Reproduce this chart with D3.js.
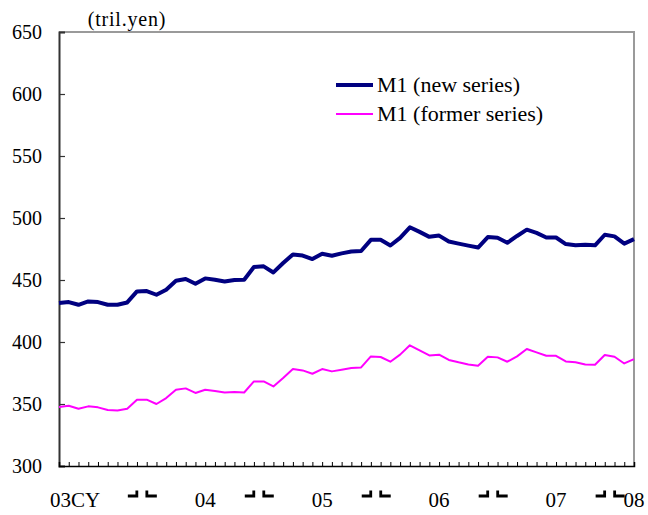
<!DOCTYPE html>
<html>
<head>
<meta charset="utf-8">
<script src="https://cdn.jsdelivr.net/npm/d3@7"></script>
<style>
  body { margin: 0; background: #fff; }
  text { font-family: "Liberation Serif", "Times New Roman", serif; fill: #000; }
</style>
</head>
<body>
<div id="chart"></div>
<script>
// months Apr 2003 - Mar 2008
var months = [
  "2003-04","2003-05","2003-06","2003-07","2003-08","2003-09","2003-10","2003-11","2003-12",
  "2004-01","2004-02","2004-03","2004-04","2004-05","2004-06","2004-07","2004-08","2004-09","2004-10","2004-11","2004-12",
  "2005-01","2005-02","2005-03","2005-04","2005-05","2005-06","2005-07","2005-08","2005-09","2005-10","2005-11","2005-12",
  "2006-01","2006-02","2006-03","2006-04","2006-05","2006-06","2006-07","2006-08","2006-09","2006-10","2006-11","2006-12",
  "2007-01","2007-02","2007-03","2007-04","2007-05","2007-06","2007-07","2007-08","2007-09","2007-10","2007-11","2007-12",
  "2008-01","2008-02","2008-03"
];

var m1New = [
  431.4, 432.2, 430.0, 432.7, 432.2, 430.0, 430.0, 431.9,
  440.8, 441.1, 438.1, 442.2, 449.4, 450.8, 447.0, 451.3,
  450.2, 448.8, 450.0, 450.2, 460.5, 461.0, 456.1, 463.7,
  470.6, 469.7, 466.9, 471.2, 469.6, 471.5, 473.0, 473.4,
  482.4, 482.4, 477.8, 484.0, 492.5, 488.8, 484.8, 485.8,
  481.0, 479.3, 477.7, 476.2, 484.6, 484.0, 480.0, 485.5,
  490.6, 488.0, 484.3, 484.3, 479.0, 478.0, 478.5, 478.0,
  486.5, 485.2, 479.3, 483.0
];

var m1Former = [
  347.6, 348.6, 346.2, 348.1, 347.3, 345.1, 344.8, 346.2,
  353.5, 353.5, 350.0, 354.8, 361.5, 362.6, 358.9, 361.5,
  360.5, 359.3, 359.7, 359.3, 368.2, 368.2, 364.2, 371.0,
  378.2, 377.1, 374.4, 378.2, 376.3, 377.6, 379.0, 379.5,
  388.4, 387.9, 384.1, 389.8, 397.3, 393.2, 389.2, 389.8,
  385.5, 383.6, 381.9, 380.9, 388.1, 387.6, 384.1, 388.4,
  394.3, 391.6, 388.9, 388.9, 384.3, 383.6, 381.9, 381.7,
  389.5, 388.1, 382.7, 386.2
];

var yTicks = [300, 350, 400, 450, 500, 550, 600, 650];
var yearLabels = ["03CY", "04", "05", "06", "07", "08"];
var yearLabelMonths = ["2003-04", "2004-07", "2005-07", "2006-07", "2007-07", "2008-03"];
var yearBreaks = ["2004-01", "2005-01", "2006-01", "2007-01", "2008-01"];
var seriesNames = ["M1 (new series)", "M1 (former series)"];

var width = 648, height = 515;
var margin = { top: 32, right: 14, bottom: 49, left: 59 };

var svg = d3.select("#chart").append("svg")
  .attr("width", width)
  .attr("height", height);

var x = d3.scalePoint()
  .domain(months)
  .range([margin.left, width - margin.right]);

var y = d3.scaleLinear()
  .domain([300, 650])
  .range([height - margin.bottom, margin.top]);

var step = x.step();

// frame: top and right in grey
svg.append("path")
  .attr("d", "M" + margin.left + "," + y(650) + "H" + (width - margin.right) + "V" + y(300))
  .attr("fill", "none")
  .attr("stroke", "#9a9a9a")
  .attr("stroke-width", 2);

// y axis
var yAxis = d3.axisLeft(y)
  .tickValues(yTicks)
  .tickSize(-6)
  .tickPadding(17);

var gy = svg.append("g")
  .attr("transform", "translate(" + margin.left + ",0)")
  .call(yAxis);
gy.attr("font-family", null).attr("font-size", null);
gy.select(".domain").attr("stroke", "#333").attr("stroke-width", 2);
gy.selectAll(".tick line").attr("stroke", "#333").attr("stroke-width", 1.2);
gy.selectAll(".tick text")
  .style("font-size", "20px")
  .attr("fill", "#000");

// x axis, month ticks pointing inward
var xAxis = d3.axisBottom(x)
  .tickSize(-4)
  .tickFormat("");

var gx = svg.append("g")
  .attr("transform", "translate(0," + y(300) + ")")
  .call(xAxis);
gx.select(".domain").attr("stroke", "#000").attr("stroke-width", 1.5);
gx.selectAll(".tick line").attr("stroke", "#000").attr("stroke-width", 1);

// year labels
svg.selectAll(".yearLabel")
  .data(yearLabels)
  .enter().append("text")
  .attr("class", "yearLabel")
  .attr("x", function(d, i) {
    if (i === 0) return x(yearLabelMonths[i]) - 9;
    return x(yearLabelMonths[i]);
  })
  .attr("y", 507)
  .attr("text-anchor", function(d, i) { return i === 0 ? "start" : "middle"; })
  .style("font-size", "21px")
  .text(function(d) { return d; });

// year break marks
svg.selectAll(".yearBreak")
  .data(yearBreaks)
  .enter().append("path")
  .attr("class", "yearBreak")
  .attr("fill", "none")
  .attr("stroke", "#000")
  .attr("stroke-width", 2.8)
  .attr("d", function(d) {
    var c = x(d) - step / 2;
    return "M" + (c - 14) + ",496H" + (c - 5) + "V490.5" +
      "M" + (c + 5) + ",490.5V496H" + (c + 15);
  });

// unit label
svg.append("text")
  .attr("x", 127)
  .attr("y", 26)
  .attr("text-anchor", "middle")
  .style("font-size", "20px")
  .style("letter-spacing", "0.8px")
  .text("(tril.yen)");

var line = d3.line()
  .x(function(d, i) { return x(months[i]); })
  .y(function(d) { return y(d); });

svg.append("path")
  .datum(m1Former)
  .attr("fill", "none")
  .attr("stroke", "#ff00ff")
  .attr("stroke-width", 2)
  .attr("stroke-linejoin", "round")
  .attr("d", line);

svg.append("path")
  .datum(m1New)
  .attr("fill", "none")
  .attr("stroke", "#000080")
  .attr("stroke-width", 4)
  .attr("stroke-linejoin", "round")
  .attr("d", line);

// legend
var legend = svg.append("g").attr("transform", "translate(336,85)");
var legendColors = ["#000080", "#ff00ff"];
var legendWidths = [4, 2];

legend.selectAll("line")
  .data(seriesNames)
  .enter().append("line")
  .attr("x1", 0)
  .attr("x2", 37)
  .attr("y1", function(d, i) { return i * 29; })
  .attr("y2", function(d, i) { return i * 29; })
  .attr("stroke", function(d, i) { return legendColors[i]; })
  .attr("stroke-width", function(d, i) { return legendWidths[i]; });

legend.selectAll("text")
  .data(seriesNames)
  .enter().append("text")
  .attr("x", 41)
  .attr("y", function(d, i) { return i * 29 + 7; })
  .style("font-size", "22px")
  .text(function(d) { return d; });
</script>
</body>
</html>
